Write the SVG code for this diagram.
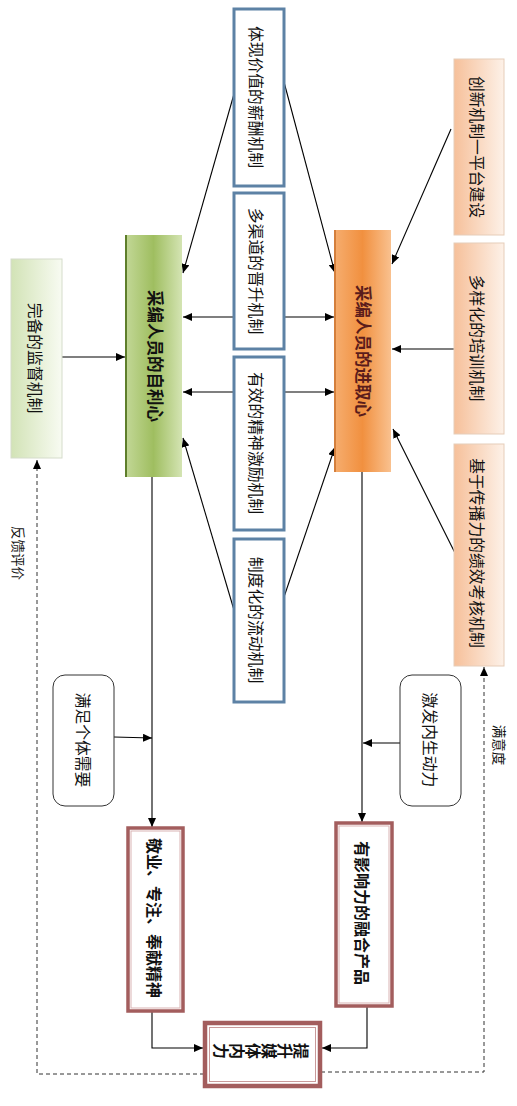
<svg xmlns="http://www.w3.org/2000/svg" width="517" height="1106" viewBox="0 0 517 1106">
<defs>
<linearGradient id="gGreen" x1="0" y1="0" x2="1" y2="0">
<stop offset="0" stop-color="#c3d898"/><stop offset="0.5" stop-color="#9fbe60"/><stop offset="1" stop-color="#d4e4b3"/>
</linearGradient>
<linearGradient id="gOrange" x1="0" y1="0" x2="1" y2="0">
<stop offset="0" stop-color="#f6ae70"/><stop offset="0.5" stop-color="#f1903f"/><stop offset="1" stop-color="#f9c18f"/>
</linearGradient>
<linearGradient id="gPeach" x1="0" y1="0" x2="1" y2="0">
<stop offset="0" stop-color="#f6c09a"/><stop offset="1" stop-color="#fdf1e8"/>
</linearGradient>
<linearGradient id="gPale" x1="0" y1="0" x2="1" y2="0">
<stop offset="0" stop-color="#d2e3b6"/><stop offset="1" stop-color="#f8fbf2"/>
</linearGradient>
<marker id="ah" markerUnits="userSpaceOnUse" markerWidth="10" markerHeight="8" refX="9" refY="4" orient="auto">
<path d="M0,0 L9,4 L0,8 Z" fill="#000"/>
</marker>
<style>
.t{font-family:"Noto Sans CJK SC","Noto Sans",sans-serif;text-anchor:middle;dominant-baseline:central;fill:#111}
.blue{fill:#fff;stroke:#5d82a5;stroke-width:3}
.peach{fill:url(#gPeach);stroke:#e6cdb9;stroke-width:1}
.red{fill:#fff;stroke:#a35d5d;stroke-width:3.5}
.redin{fill:none;stroke:#d9b3b3;stroke-width:1}
.rr{fill:#fff;stroke:#333;stroke-width:1}
.ln{fill:none;stroke:#000;stroke-width:1.1;marker-end:url(#ah)}
.ds{fill:none;stroke:#333;stroke-width:1;stroke-dasharray:4,3;marker-end:url(#ah)}
.fp{font-size:16px;font-weight:bold}
</style>
</defs>

<g id="connectors">
<line class="ln" x1="234" y1="94" x2="183" y2="273"/>
<line class="ln" x1="284" y1="82" x2="335" y2="273"/>
<line class="ln" x1="451" y1="129" x2="392" y2="264"/>
<line class="ln" x1="234" y1="317" x2="183" y2="317"/>
<line class="ln" x1="284" y1="317" x2="334" y2="317"/>
<line class="ln" x1="234" y1="392" x2="183" y2="392"/>
<line class="ln" x1="284" y1="392" x2="334" y2="392"/>
<line class="ln" x1="454" y1="349" x2="392" y2="349"/>
<line class="ln" x1="62" y1="357" x2="125" y2="357"/>
<line class="ln" x1="234" y1="610" x2="183" y2="438"/>
<line class="ln" x1="284" y1="597" x2="335" y2="447"/>
<line class="ln" x1="455" y1="553" x2="393" y2="429"/>
<line class="ln" x1="152" y1="477" x2="152" y2="827"/>
<line class="ln" x1="362" y1="472" x2="362" y2="822"/>
<line class="ln" x1="114" y1="737" x2="152" y2="738"/>
<line class="ln" x1="400" y1="743" x2="363" y2="743"/>
<path class="ln" d="M152,1011 V1048 H203"/>
<path class="ln" d="M367,1006 V1048 H322"/>
<path class="ds" d="M204,1074 H37 V460"/>
<path class="ds" d="M321,1072 H484 V667"/>
</g>

<g id="label-feedback"><text class="t" font-size="13.5" transform="translate(19,553) rotate(90)">反馈评价</text></g>
<g id="label-satisfaction"><text class="t" font-size="13.5" transform="translate(500,745) rotate(90)">满意度</text></g>

<g id="n-salary">
<rect class="blue" x="234" y="9" width="50" height="177"/>
<text class="t" font-size="15.8" transform="translate(256,97) rotate(90)">体现价值的薪酬机制</text>
</g>
<g id="n-promotion">
<rect class="blue" x="234" y="193" width="50" height="156"/>
<text class="t" font-size="15.8" transform="translate(256,271) rotate(90)">多渠道的晋升机制</text>
</g>
<g id="n-spirit">
<rect class="blue" x="234" y="357" width="50" height="173"/>
<text class="t" font-size="15.8" transform="translate(256,443) rotate(90)">有效的精神激励机制</text>
</g>
<g id="n-flow">
<rect class="blue" x="234" y="539" width="50" height="163"/>
<text class="t" font-size="15.8" transform="translate(256,620) rotate(90)">制度化的流动机制</text>
</g>

<g id="n-supervise">
<rect x="11" y="259" width="51" height="199" fill="url(#gPale)" stroke="#d5dccb" stroke-width="1"/>
<text class="t" font-size="15.8" transform="translate(35,358) rotate(90)">完备的监督机制</text>
</g>

<g id="n-selfinterest">
<rect x="125" y="235" width="57" height="242" fill="url(#gGreen)"/>
<line x1="126" y1="235" x2="126" y2="477" stroke="#5e7e2b" stroke-width="2"/>
<text class="t" font-size="16.5" font-weight="bold" fill="#1d2a0e" transform="translate(156,356) rotate(90)">采编人员的自利心</text>
</g>

<g id="n-ambition">
<rect x="334" y="230" width="57" height="242" fill="url(#gOrange)"/>
<line x1="335" y1="230" x2="335" y2="472" stroke="#c9712c" stroke-width="1.5"/>
<text class="t" font-size="16.5" font-weight="bold" style="fill:#5a1c1c" transform="translate(364,351) rotate(90)">采编人员的进取心</text>
</g>

<g id="n-innovation">
<rect class="peach" x="454" y="59" width="50" height="176"/>
<text class="t" font-size="15.8" transform="translate(477,147) rotate(90)">创新机制一平台建设</text>
</g>
<g id="n-training">
<rect class="peach" x="454" y="243" width="50" height="191"/>
<text class="t" font-size="15.8" transform="translate(477,338) rotate(90)">多样化的培训机制</text>
</g>
<g id="n-kpi">
<rect class="peach" x="454" y="444" width="50" height="222"/>
<text class="t" font-size="15.8" transform="translate(477,553) rotate(90)">基于传播力的绩效考核机制</text>
</g>

<g id="n-needs">
<rect class="rr" x="53" y="675" width="61" height="131" rx="12"/>
<text class="t" font-size="15.8" transform="translate(83,740) rotate(90)">满足个体需要</text>
</g>
<g id="n-motive">
<rect class="rr" x="400" y="675" width="61" height="131" rx="12"/>
<text class="t" font-size="15.8" transform="translate(430,740) rotate(90)">激发内生动力</text>
</g>

<g id="n-dedication">
<rect class="red" x="128" y="828" width="55" height="183"/>
<rect class="redin" x="131" y="831" width="49" height="177"/>
<text class="t" font-size="16" font-weight="bold" transform="translate(155,918) rotate(90)">敬业、专注、奉献精神</text>
</g>
<g id="n-product">
<rect class="red" x="336" y="823" width="56" height="183"/>
<rect class="redin" x="339" y="826" width="50" height="177"/>
<text class="t" font-size="16" font-weight="bold" transform="translate(363,913) rotate(90)">有影响力的融合产品</text>
</g>

<g id="n-power">
<rect x="205" y="1023" width="115" height="63" fill="#fff" stroke="#a35d5d" stroke-width="4.5"/>
<rect x="209.5" y="1027.5" width="106" height="54" fill="none" stroke="#c99a9a" stroke-width="1"/>
<text class="t fp" transform="translate(302,1051) rotate(90)">提</text>
<text class="t fp" transform="translate(286,1051) rotate(90)">升</text>
<text class="t fp" transform="translate(270,1051) rotate(90)">媒</text>
<text class="t fp" transform="translate(254,1051) rotate(90)">体</text>
<text class="t fp" transform="translate(238,1051) rotate(90)">内</text>
<text class="t fp" transform="translate(222,1051) rotate(90)">力</text>
</g>
</svg>
